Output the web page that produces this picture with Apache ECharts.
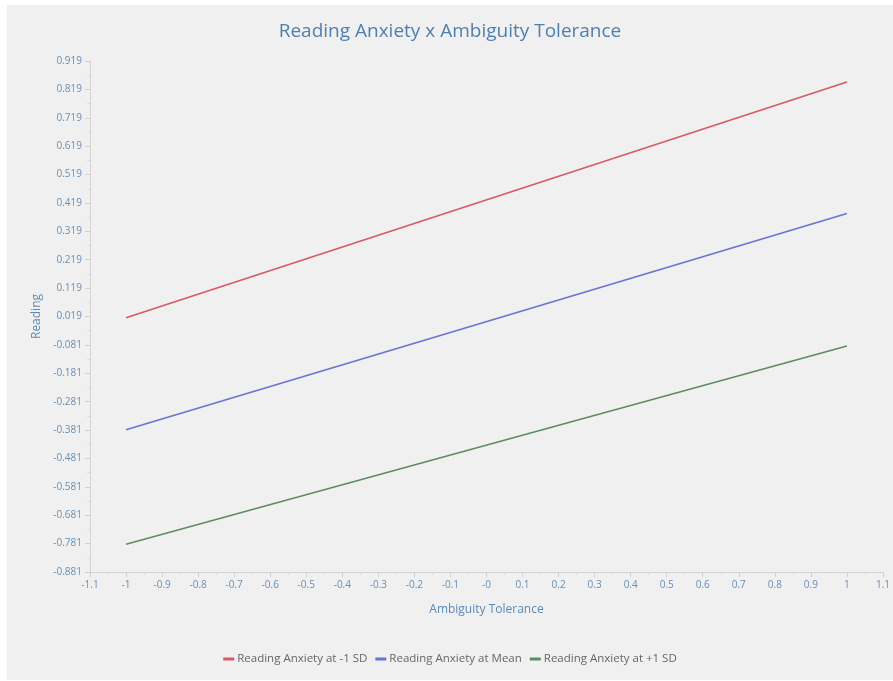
<!DOCTYPE html>
<html><head><meta charset="utf-8">
<script src="https://cdn.jsdelivr.net/npm/echarts@6/dist/echarts.min.js"></script>
<style>
html,body{margin:0;padding:0;background:#fff;}
#c{position:absolute;left:7px;top:5px;width:886px;height:675px;background:#f0f0f0;}
</style></head>
<body><div id="c"></div>
<script>
const titleText = 'Reading Anxiety x Ambiguity Tolerance';
const xName = 'Ambiguity Tolerance';
const yName = 'Reading';
const xValues = [-1, 1];
const seriesNames = ['Reading Anxiety at -1 SD', 'Reading Anxiety at Mean', 'Reading Anxiety at +1 SD'];
const lowSD = [0.015, 0.845];
const meanSD = [-0.380, 0.382];
const highSD = [-0.783, -0.085];
const xTicks = [-1.1,-1,-0.9,-0.8,-0.7,-0.6,-0.5,-0.4,-0.3,-0.2,-0.1,0,0.1,0.2,0.3,0.4,0.5,0.6,0.7,0.8,0.9,1,1.1];
const xTickLabels = ['-1.1','-1','-0.9','-0.8','-0.7','-0.6','-0.5','-0.4','-0.3','-0.2','-0.1','-0','0.1','0.2','0.3','0.4','0.5','0.6','0.7','0.8','0.9','1','1.1'];
const yTicks = [-0.881,-0.781,-0.681,-0.581,-0.481,-0.381,-0.281,-0.181,-0.081,0.019,0.119,0.219,0.319,0.419,0.519,0.619,0.719,0.819,0.919];
const yTickLabels = ['-0.881','-0.781','-0.681','-0.581','-0.481','-0.381','-0.281','-0.181','-0.081','0.019','0.119','0.219','0.319','0.419','0.519','0.619','0.719','0.819','0.919'];
const colors = ['#d65a63', '#6a72d2', '#5e8c60'];

const FONT = '"Open Sans", "Noto Sans", sans-serif';
const labelColor = '#6a8fb5';
const seriesData = [lowSD, meanSD, highSD];

const yMinor = [];
for (let i = 0; i < yTicks.length - 1; i++) yMinor.push(+((yTicks[i] + yTicks[i+1]) / 2).toFixed(4));
const xMinor = [];
for (let i = 0; i < xTicks.length - 1; i++) xMinor.push(+((xTicks[i] + xTicks[i+1]) / 2).toFixed(4));

const chart = echarts.init(document.getElementById('c'), null, {renderer: 'canvas'});
chart.setOption({
  backgroundColor: '#f0f0f0',
  animation: false,
  title: {
    text: titleText, left: 'center', top: 12,
    textStyle: {color: '#4f7fae', fontFamily: FONT, fontSize: 19, fontWeight: 'normal'}
  },
  legend: {
    bottom: 10, left: 'center', itemWidth: 11, itemHeight: 3, itemGap: 8,
    icon: 'rect',
    textStyle: {color: '#666', fontFamily: FONT, fontSize: 11.5, padding: [0,0,0,-2]},
    data: seriesNames
  },
  grid: {left: 83, right: 3, top: 56, bottom: 108, containLabel: false},
  xAxis: [{
    type: 'value', min: -1.1, max: 1.1,
    name: xName, nameLocation: 'middle', nameGap: 32,
    nameTextStyle: {color: '#5b8ab8', fontFamily: FONT, fontSize: 12},
    axisLine: {show: true, onZero: false, lineStyle: {color: '#d3d3d3'}},
    axisTick: {show: true, customValues: xTicks, length: 5, lineStyle: {color: '#cfcfcf'}},
    axisLabel: {
      customValues: xTicks, color: labelColor, fontFamily: FONT, fontSize: 10, margin: 8,
      formatter: function (v) { const i = xTicks.findIndex(t => Math.abs(t - v) < 1e-6); return i >= 0 ? xTickLabels[i] : ''; }
    },
    splitLine: {show: false}
  }, {
    type: 'value', min: -1.1, max: 1.1, position: 'bottom', show: true,
    axisLine: {show: false, onZero: false},
    axisTick: {show: true, customValues: xMinor, length: 3, lineStyle: {color: '#dddddd'}},
    axisLabel: {show: false}, splitLine: {show: false}
  }],
  yAxis: [{
    type: 'value', min: -0.881, max: 0.919,
    name: yName, nameLocation: 'middle', nameGap: 47, nameRotate: 90,
    nameTextStyle: {color: '#5b8ab8', fontFamily: FONT, fontSize: 12},
    axisLine: {show: true, onZero: false, lineStyle: {color: '#d3d3d3'}},
    axisTick: {show: true, customValues: yTicks, length: 5, lineStyle: {color: '#cfcfcf'}},
    axisLabel: {
      customValues: yTicks, color: labelColor, fontFamily: FONT, fontSize: 10, margin: 8,
      formatter: function (v) { const i = yTicks.findIndex(t => Math.abs(t - v) < 1e-6); return i >= 0 ? yTickLabels[i] : ''; }
    },
    splitLine: {show: false}
  }, {
    type: 'value', min: -0.881, max: 0.919, position: 'left', show: true,
    axisLine: {show: false, onZero: false},
    axisTick: {show: true, customValues: yMinor, length: 3, lineStyle: {color: '#dddddd'}},
    axisLabel: {show: false}, splitLine: {show: false}
  }],
  series: seriesNames.map((n, i) => ({
    name: n, type: 'line', xAxisIndex: 0, yAxisIndex: 0,
    data: xValues.map((x, j) => [x, seriesData[i][j]]),
    symbol: 'none', lineStyle: {color: colors[i], width: 1.6},
    itemStyle: {color: colors[i]}
  }))
});
</script></body></html>
